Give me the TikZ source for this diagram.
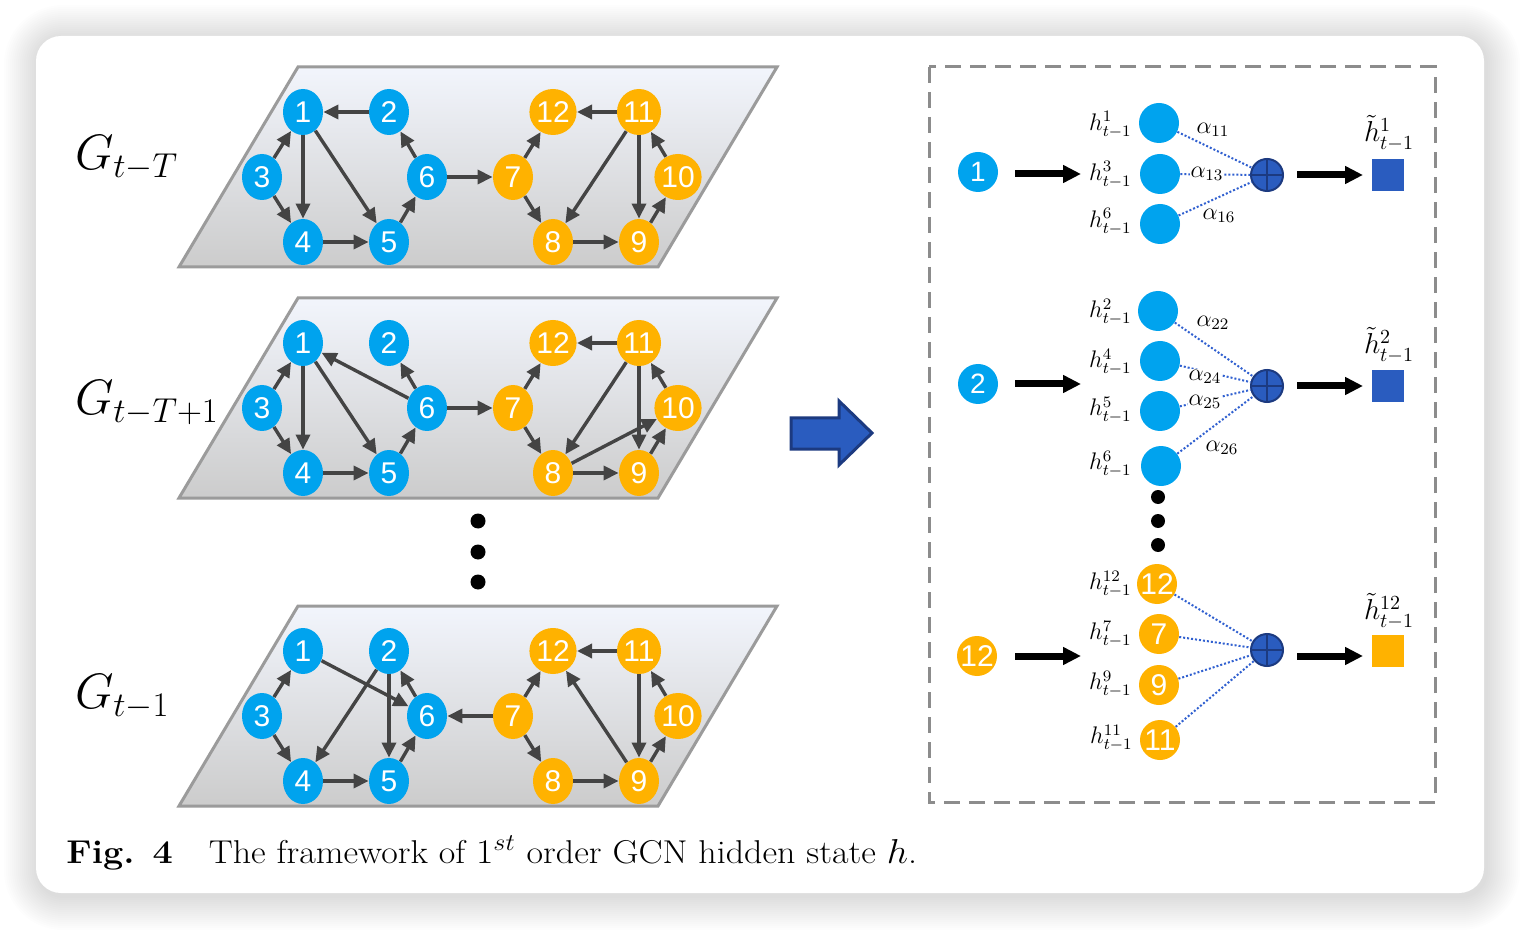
\documentclass[tikz,border=0pt]{standalone}
\usepackage{fontspec}
\newfontfamily\arialf{Liberation Sans}
\usetikzlibrary{arrows.meta,shapes.geometric}
\definecolor{nblue}{RGB}{0,163,238}
\definecolor{norange}{RGB}{255,178,0}
\definecolor{pblue}{RGB}{42,92,191}
\definecolor{pdark}{RGB}{28,58,128}
\definecolor{edgec}{RGB}{68,68,68}
\definecolor{dotc}{RGB}{48,96,208}
\definecolor{paratop}{RGB}{242,245,252}
\definecolor{parabot}{RGB}{204,204,204}
\definecolor{paraline}{RGB}{155,155,155}
\definecolor{boxline}{RGB}{140,140,140}
\begin{document}
\begin{tikzpicture}[x=0.5pt,y=-0.5pt,
  gnode/.style={ellipse,minimum width=20pt,minimum height=23pt,inner sep=0pt,text=white,font=\arialf\fontsize{15}{15}\selectfont},
  bnode/.style={gnode,fill=nblue},
  onode/.style={gnode,fill=norange},
  edge/.style={draw=edgec,line width=1.7pt,-{Triangle[length=7.5pt,width=7pt]}},
  para/.style={top color=paratop,bottom color=parabot,draw=paraline,line width=1.5pt},
  glabel/.style={anchor=west,font=\fontsize{24}{28}\selectfont},
  incirc/.style={circle,minimum size=20pt,inner sep=0pt,text=white,font=\arialf\fontsize{14}{14}\selectfont},
  scirc/.style={circle,minimum size=20pt,inner sep=0pt,text=white,font=\arialf\fontsize{15}{15}\selectfont},
  hlab/.style={anchor=east,inner sep=0pt,font=\fontsize{11.5}{13}\selectfont},
  alab/.style={inner sep=0.5pt,font=\fontsize{11.5}{13}\selectfont},
  tlab/.style={inner sep=0pt,font=\fontsize{14}{16}\selectfont},
  plusnode/.style={circle,minimum size=16pt,inner sep=0pt,fill=pblue,draw=pdark,line width=1pt},
  sqnode/.style={rectangle,minimum size=16pt,inner sep=0pt},
  attn/.style={draw=dotc,line width=1pt,dash pattern=on 1pt off 1pt},
  bigarrow/.style={draw=black,line width=3.5pt,-{Triangle[length=9pt,width=8.5pt]}},
  dotnode/.style={circle,fill=black,minimum size=7.5pt,inner sep=0pt}
]
\useasboundingbox (0,0) rectangle (1520,930);
% shadow
\foreach \k [evaluate=\k as \r using 12.5+1*\k] in {1,...,17}{
  \fill[black,opacity=0.008,rounded corners=\r pt] ({36-2*\k+2},{36-2*\k+3}) rectangle ({1484+2*\k+2},{893+2*\k+3});
}
% card
\fill[white,rounded corners=12.5pt] (36,36) rectangle (1484,893);

% graph layers
\foreach \L/\dy in {1/0,2/231,3/539}{
  \shadedraw[para] (298,{67+\dy}) -- (777,{67+\dy}) -- (658,{267+\dy}) -- (179,{267+\dy}) -- cycle;
  \foreach \i/\x/\y/\c in {1/303/112/bnode,2/389/112/bnode,3/262/177/bnode,4/303/242/bnode,5/389/242/bnode,6/427/177/bnode,7/513/177/onode,8/553/242/onode,9/639/242/onode,10/678/177/onode,11/639/112/onode,12/553/112/onode}{
    \node[\c] (L\L-\i) at (\x,{\y+\dy}) {\i};
  }
}
\foreach \a/\b in {2/1,3/1,3/4,1/4,1/5,4/5,5/6,6/2,6/7,7/12,7/8,11/12,11/8,11/9,8/9,9/10,10/11}
  \draw[edge] (L1-\a) -- (L1-\b);
\foreach \a/\b in {3/1,3/4,1/4,1/5,6/1,6/2,5/6,4/5,6/7,7/12,7/8,11/12,11/8,11/9,8/9,8/10,9/10,10/11}
  \draw[edge] (L2-\a) -- (L2-\b);
\foreach \a/\b in {3/1,3/4,1/6,2/4,2/5,6/2,5/6,4/5,7/6,7/12,7/8,11/12,9/12,11/9,8/9,9/10,10/11}
  \draw[edge] (L3-\a) -- (L3-\b);

% layer labels
\node[glabel] (G1) at (68,158) {$G_{t-T}$};
\node[glabel] (G2) at (68,403) {$G_{t-T+1}$};
\node[glabel] (G3) at (68,697) {$G_{t-1}$};

% vertical dots
\node[dotnode] (vd1) at (478,521) {};
\node[dotnode] (vd2) at (478,552) {};
\node[dotnode] (vd3) at (478,582) {};

% big arrow
\filldraw[fill=pblue,draw=pdark,line width=1.5pt] (791,418) -- (839,418) -- (839,401) -- (872,433) -- (839,465) -- (839,449) -- (791,449) -- cycle;

% dashed box
\draw[draw=boxline,line width=1.5pt,dash pattern=on 8pt off 4.5pt] (929,67) rectangle (1435,802);

% ---- group 1
\node[incirc,fill=nblue] (in1) at (978,172) {1};
\coordinate (a1s) at (1015,174); \coordinate (a1e) at (1081,174);
\draw[bigarrow] (a1s) -- (a1e);
\node[scirc,fill=nblue] (g1a) at (1159,123) {};
\node[scirc,fill=nblue] (g1b) at (1160,174) {};
\node[scirc,fill=nblue] (g1c) at (1160,224) {};
\node[hlab] (h1a) at (1132,125) {$h^{1}_{t-1}$};
\node[hlab] (h1b) at (1132,175) {$h^{3}_{t-1}$};
\node[hlab] (h1c) at (1132,222) {$h^{6}_{t-1}$};
\node[plusnode] (p1) at (1267,175) {};
\draw[pdark,line width=1pt] (p1.north) -- (p1.south) (p1.west) -- (p1.east);
\draw[attn] (g1a) -- (p1);
\draw[attn] (g1b) -- (p1);
\draw[attn] (g1c) -- (p1);
\node[alab] (al11) at (1213,130) {$\alpha_{11}$};
\node[alab,fill=white] (al13) at (1207,174) {$\alpha_{13}$};
\node[alab] (al16) at (1219,216) {$\alpha_{16}$};
\coordinate (b1s) at (1297,175); \coordinate (b1e) at (1363,175);
\draw[bigarrow] (b1s) -- (b1e);
\node[sqnode,fill=pblue] (sq1) at (1388,175) {};
\node[tlab] (t1) at (1389,133) {$\tilde{h}^{1}_{t-1}$};

% ---- group 2
\node[incirc,fill=nblue] (in2) at (978,384) {2};
\coordinate (a2s) at (1015,384); \coordinate (a2e) at (1081,384);
\draw[bigarrow] (a2s) -- (a2e);
\node[scirc,fill=nblue] (g2a) at (1158,311) {};
\node[scirc,fill=nblue] (g2b) at (1160,361) {};
\node[scirc,fill=nblue] (g2c) at (1160,411) {};
\node[scirc,fill=nblue] (g2d) at (1161,466) {};
\node[hlab] (h2a) at (1132,312) {$h^{2}_{t-1}$};
\node[hlab] (h2b) at (1132,362) {$h^{4}_{t-1}$};
\node[hlab] (h2c) at (1132,410) {$h^{5}_{t-1}$};
\node[hlab] (h2d) at (1132,464) {$h^{6}_{t-1}$};
\node[plusnode] (p2) at (1267,386) {};
\draw[pdark,line width=1pt] (p2.north) -- (p2.south) (p2.west) -- (p2.east);
\draw[attn] (g2a) -- (p2);
\draw[attn] (g2b) -- (p2);
\draw[attn] (g2c) -- (p2);
\draw[attn] (g2d) -- (p2);
\node[alab] (al22) at (1213,323) {$\alpha_{22}$};
\node[alab,fill=white] (al24) at (1205,377) {$\alpha_{24}$};
\node[alab,fill=white] (al25) at (1205,402) {$\alpha_{25}$};
\node[alab] (al26) at (1222,448) {$\alpha_{26}$};
\coordinate (b2s) at (1297,386); \coordinate (b2e) at (1363,386);
\draw[bigarrow] (b2s) -- (b2e);
\node[sqnode,fill=pblue] (sq2) at (1388,386) {};
\node[tlab] (t2) at (1389,345) {$\tilde{h}^{2}_{t-1}$};

% right dots
\node[dotnode,minimum size=7pt] (rd1) at (1158,497) {};
\node[dotnode,minimum size=7pt] (rd2) at (1158,521) {};
\node[dotnode,minimum size=7pt] (rd3) at (1158,545) {};

% ---- group 3
\node[incirc,fill=norange,font=\arialf\fontsize{15}{15}\selectfont] (in3) at (977,656) {12};
\coordinate (a3s) at (1015,656); \coordinate (a3e) at (1081,656);
\draw[bigarrow] (a3s) -- (a3e);
\node[scirc,fill=norange] (g3a) at (1157,584) {12};
\node[scirc,fill=norange] (g3b) at (1159,634) {7};
\node[scirc,fill=norange] (g3c) at (1159,685) {9};
\node[scirc,fill=norange] (g3d) at (1160,740) {11};
\node[hlab] (h3a) at (1132,584) {$h^{12}_{t-1}$};
\node[hlab] (h3b) at (1132,634) {$h^{7}_{t-1}$};
\node[hlab] (h3c) at (1132,684) {$h^{9}_{t-1}$};
\node[hlab] (h3d) at (1133,738) {$h^{11}_{t-1}$};
\node[plusnode] (p3) at (1267,650) {};
\draw[pdark,line width=1pt] (p3.north) -- (p3.south) (p3.west) -- (p3.east);
\draw[attn] (g3a) -- (p3);
\draw[attn] (g3b) -- (p3);
\draw[attn] (g3c) -- (p3);
\draw[attn] (g3d) -- (p3);
\coordinate (b3s) at (1297,656); \coordinate (b3e) at (1363,656);
\draw[bigarrow] (b3s) -- (b3e);
\node[sqnode,fill=norange] (sq3) at (1388,651) {};
\node[tlab] (t3) at (1389,611) {$\tilde{h}^{12}_{t-1}$};

% caption
\node[anchor=west,inner sep=0pt,font=\fontsize{16.5}{19}\selectfont] (cap) at (66,853) {\scalebox{1.09}[1]{\textbf{Fig. 4}\quad The framework of $1^{st}$ order GCN hidden state $h$.}};
\end{tikzpicture}
\end{document}
